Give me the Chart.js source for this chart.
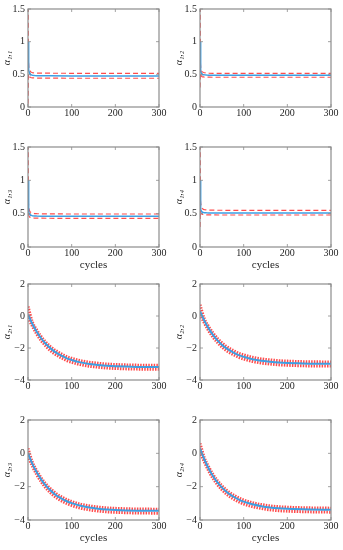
<!DOCTYPE html>
<html>
<head>
<meta charset="utf-8">
<script src="https://cdn.jsdelivr.net/npm/chart.js@4.4.1/dist/chart.umd.min.js"></script>
<style>
  body { margin: 0; background: #fff; }
  .cell { position: absolute; }
</style>
</head>
<body>
<div class="cell" style="left:0;top:0"><canvas id="c11" width="172" height="135"></canvas></div>
<div class="cell" style="left:172px;top:0"><canvas id="c12" width="171" height="135"></canvas></div>
<div class="cell" style="left:0;top:135px"><canvas id="c13" width="172" height="140"></canvas></div>
<div class="cell" style="left:172px;top:135px"><canvas id="c14" width="171" height="140"></canvas></div>
<div class="cell" style="left:0;top:275px"><canvas id="c21" width="172" height="135"></canvas></div>
<div class="cell" style="left:172px;top:275px"><canvas id="c22" width="171" height="135"></canvas></div>
<div class="cell" style="left:0;top:410px"><canvas id="c23" width="172" height="140"></canvas></div>
<div class="cell" style="left:172px;top:410px"><canvas id="c24" width="171" height="140"></canvas></div>
<script>
// cycles sampled for the first-row parameters (fast transient) and second-row ones (slow decay)
const cycTop = [0, 1, 2, 3, 4, 6, 8, 10, 15, 20, 30, 50, 100, 200, 300];
const cycBot = [0, 10, 20, 30, 40, 50, 60, 70, 80, 90, 100, 120, 140, 160, 180, 200, 250, 300];

const xTicks = [0, 100, 200, 300];
const yTicksTop = [0, 0.5, 1, 1.5];
const yTicksBot = [-4, -2, 0, 2];

// alpha_1,j
const a11Mean  = [1.0, 0.62, 0.56, 0.53, 0.515, 0.50, 0.492, 0.487, 0.482, 0.48, 0.478, 0.477, 0.476, 0.476, 0.476];
const a11Upper = [1.9, 0.70, 0.60, 0.57, 0.555, 0.54, 0.532, 0.527, 0.522, 0.52, 0.518, 0.517, 0.516, 0.516, 0.516];
const a11Lower = [0.05, 0.50, 0.48, 0.465, 0.458, 0.452, 0.448, 0.446, 0.444, 0.443, 0.442, 0.441, 0.44, 0.44, 0.44];

const a12Mean  = [1.0, 0.60, 0.54, 0.52, 0.51, 0.50, 0.495, 0.492, 0.489, 0.487, 0.486, 0.485, 0.485, 0.485, 0.485];
const a12Upper = [1.9, 0.66, 0.58, 0.555, 0.545, 0.535, 0.528, 0.524, 0.52, 0.518, 0.516, 0.515, 0.515, 0.515, 0.515];
const a12Lower = [0.3, 0.52, 0.49, 0.475, 0.468, 0.462, 0.46, 0.458, 0.457, 0.456, 0.455, 0.455, 0.455, 0.455, 0.455];

const a13Mean  = [1.0, 0.60, 0.53, 0.50, 0.49, 0.48, 0.474, 0.47, 0.466, 0.464, 0.462, 0.461, 0.46, 0.46, 0.46];
const a13Upper = [1.9, 0.65, 0.58, 0.55, 0.535, 0.52, 0.512, 0.507, 0.502, 0.50, 0.498, 0.496, 0.495, 0.495, 0.495];
const a13Lower = [0.5, 0.50, 0.47, 0.455, 0.448, 0.442, 0.438, 0.436, 0.434, 0.433, 0.432, 0.431, 0.43, 0.43, 0.43];

const a14Mean  = [1.0, 0.62, 0.56, 0.54, 0.53, 0.52, 0.516, 0.514, 0.512, 0.511, 0.51, 0.51, 0.51, 0.51, 0.51];
const a14Upper = [1.9, 0.70, 0.63, 0.60, 0.585, 0.572, 0.565, 0.56, 0.556, 0.554, 0.552, 0.551, 0.55, 0.55, 0.55];
const a14Lower = [0.3, 0.54, 0.51, 0.50, 0.495, 0.49, 0.487, 0.485, 0.483, 0.482, 0.481, 0.48, 0.48, 0.48, 0.48];

// alpha_2,j
const a21Mean  = [0.1, -0.50, -0.99, -1.39, -1.72, -1.99, -2.21, -2.38, -2.53, -2.66, -2.75, -2.90, -3.00, -3.06, -3.11, -3.14, -3.18, -3.19];
const a21Upper = [0.6, -0.38, -0.87, -1.28, -1.61, -1.88, -2.10, -2.27, -2.42, -2.55, -2.64, -2.79, -2.89, -2.95, -3.00, -3.03, -3.07, -3.08];
const a21Lower = [-0.1, -0.64, -1.13, -1.53, -1.86, -2.13, -2.35, -2.52, -2.67, -2.80, -2.89, -3.04, -3.14, -3.20, -3.25, -3.28, -3.32, -3.33];

const a22Mean  = [0.3, -0.30, -0.79, -1.19, -1.52, -1.79, -2.01, -2.18, -2.33, -2.46, -2.55, -2.70, -2.80, -2.86, -2.91, -2.94, -2.98, -2.99];
const a22Upper = [0.7, -0.18, -0.67, -1.07, -1.40, -1.67, -1.89, -2.06, -2.21, -2.34, -2.43, -2.58, -2.68, -2.74, -2.79, -2.82, -2.86, -2.87];
const a22Lower = [0.1, -0.44, -0.93, -1.33, -1.66, -1.93, -2.15, -2.32, -2.47, -2.60, -2.69, -2.84, -2.94, -3.00, -3.05, -3.08, -3.12, -3.13];

const a23Mean  = [0.0, -0.63, -1.14, -1.56, -1.91, -2.19, -2.42, -2.61, -2.76, -2.89, -2.99, -3.15, -3.25, -3.32, -3.37, -3.40, -3.44, -3.45];
const a23Upper = [0.3, -0.53, -1.04, -1.46, -1.81, -2.09, -2.32, -2.51, -2.66, -2.79, -2.89, -3.05, -3.15, -3.22, -3.27, -3.30, -3.34, -3.35];
const a23Lower = [-0.15, -0.77, -1.28, -1.70, -2.05, -2.33, -2.56, -2.75, -2.90, -3.03, -3.13, -3.29, -3.39, -3.46, -3.51, -3.54, -3.58, -3.59];

const a24Mean  = [0.3, -0.37, -0.92, -1.37, -1.74, -2.04, -2.29, -2.49, -2.65, -2.79, -2.90, -3.06, -3.17, -3.25, -3.30, -3.33, -3.37, -3.39];
const a24Upper = [0.6, -0.27, -0.82, -1.27, -1.64, -1.94, -2.19, -2.39, -2.55, -2.69, -2.80, -2.96, -3.07, -3.15, -3.20, -3.23, -3.27, -3.29];
const a24Lower = [0.1, -0.51, -1.06, -1.51, -1.88, -2.18, -2.43, -2.63, -2.79, -2.93, -3.04, -3.20, -3.31, -3.39, -3.44, -3.47, -3.51, -3.53];

const FONT = "'Liberation Serif', 'DejaVu Serif', serif";
const BLUE = '#3d9fe3';
const RED = 'rgba(255, 45, 45, 0.85)';

// matlab-like box with inward ticks
const boxPlugin = {
    id: 'box',
    afterDraw(chart) {
        const { ctx, chartArea: a, scales } = chart;
        ctx.save();
        ctx.strokeStyle = '#8c8c8c';
        ctx.lineWidth = 1.2;
        ctx.strokeRect(a.left, a.top, a.right - a.left, a.bottom - a.top);
        ctx.lineWidth = 0.8;
        ctx.beginPath();
        scales.x.ticks.forEach(t => {
            const px = scales.x.getPixelForValue(t.value);
            ctx.moveTo(px, a.bottom); ctx.lineTo(px, a.bottom - 3);
            ctx.moveTo(px, a.top); ctx.lineTo(px, a.top + 3);
        });
        scales.y.ticks.forEach(t => {
            const py = scales.y.getPixelForValue(t.value);
            ctx.moveTo(a.left, py); ctx.lineTo(a.left + 3, py);
            ctx.moveTo(a.right, py); ctx.lineTo(a.right - 3, py);
        });
        ctx.stroke();
        ctx.restore();
    }
};

function pts(xs, ys) {
    return xs.map((x, i) => ({ x: x, y: ys[i] }));
}

function makeChart(id, opts) {
    const top = opts.kind === 'top';
    const xs = top ? cycTop : cycBot;
    const yTicks = top ? yTicksTop : yTicksBot;
    const boundStyle = top
        ? { borderColor: RED, borderWidth: 1.2, borderDash: [5, 3] }
        : { borderColor: RED, borderWidth: 3, borderDash: [1.5, 1.2] };
    const datasets = [
        { data: pts(xs, opts.mean), borderColor: BLUE, borderWidth: top ? 1.5 : 2 },
        Object.assign({ data: pts(xs, opts.upper) }, boundStyle),
        Object.assign({ data: pts(xs, opts.lower) }, boundStyle)
    ];
    datasets.forEach(d => {
        d.pointRadius = 0;
        d.fill = false;
        d.tension = 0;
        if (!top) d.cubicInterpolationMode = 'monotone';
    });

    return new Chart(document.getElementById(id), {
        type: 'line',
        data: { datasets: datasets },
        options: {
            responsive: false,
            animation: false,
            layout: { padding: { left: 0, right: opts.padRight, top: opts.padTop, bottom: 0 } },
            plugins: { legend: { display: false }, tooltip: { enabled: false } },
            scales: {
                x: {
                    type: 'linear',
                    min: 0, max: 300,
                    afterBuildTicks: s => { s.ticks = xTicks.map(v => ({ value: v })); },
                    afterFit: s => { s.height = opts.xHeight; },
                    grid: { display: false, drawTicks: false },
                    border: { display: false },
                    ticks: { font: { family: FONT, size: 10 }, color: '#262626', padding: 0, maxRotation: 0 },
                    title: {
                        display: opts.xTitle,
                        text: 'cycles',
                        font: { family: FONT, size: 11 },
                        color: '#262626',
                        padding: { top: 0, bottom: opts.titlePad }
                    }
                },
                y: {
                    min: yTicks[0], max: yTicks[yTicks.length - 1],
                    afterBuildTicks: s => { s.ticks = yTicks.map(v => ({ value: v })); },
                    afterFit: s => { s.width = 28; },
                    grid: { display: false, drawTicks: false },
                    border: { display: false },
                    ticks: {
                        font: { family: FONT, size: 10 },
                        color: '#262626',
                        padding: 3,
                        callback: v => String(v).replace('-', '\u2212')
                    },
                    title: {
                        display: true,
                        text: opts.label,
                        font: { family: FONT, size: 10, style: 'italic' },
                        color: '#262626',
                        padding: { top: 1, bottom: 0 }
                    }
                }
            }
        },
        plugins: [boxPlugin]
    });
}

makeChart('c11', { kind: 'top', label: 'α₁,₁', mean: a11Mean, upper: a11Upper, lower: a11Lower, padTop: 6, padRight: 13, xHeight: 28, xTitle: false, titlePad: 0 });
makeChart('c12', { kind: 'top', label: 'α₁,₂', mean: a12Mean, upper: a12Upper, lower: a12Lower, padTop: 6, padRight: 12, xHeight: 28, xTitle: false, titlePad: 0 });
makeChart('c13', { kind: 'top', label: 'α₁,₃', mean: a13Mean, upper: a13Upper, lower: a13Lower, padTop: 12, padRight: 13, xHeight: 28, xTitle: true, titlePad: 3 });
makeChart('c14', { kind: 'top', label: 'α₁,₄', mean: a14Mean, upper: a14Upper, lower: a14Lower, padTop: 12, padRight: 12, xHeight: 28, xTitle: true, titlePad: 3 });
makeChart('c21', { kind: 'bot', label: 'α₂,₁', mean: a21Mean, upper: a21Upper, lower: a21Lower, padTop: 5, padRight: 13, xHeight: 30, xTitle: false, titlePad: 0 });
makeChart('c22', { kind: 'bot', label: 'α₂,₂', mean: a22Mean, upper: a22Upper, lower: a22Lower, padTop: 5, padRight: 12, xHeight: 30, xTitle: false, titlePad: 0 });
makeChart('c23', { kind: 'bot', label: 'α₂,₃', mean: a23Mean, upper: a23Upper, lower: a23Lower, padTop: 10, padRight: 13, xHeight: 30, xTitle: true, titlePad: 5 });
makeChart('c24', { kind: 'bot', label: 'α₂,₄', mean: a24Mean, upper: a24Upper, lower: a24Lower, padTop: 10, padRight: 12, xHeight: 30, xTitle: true, titlePad: 5 });
</script>
</body>
</html>
